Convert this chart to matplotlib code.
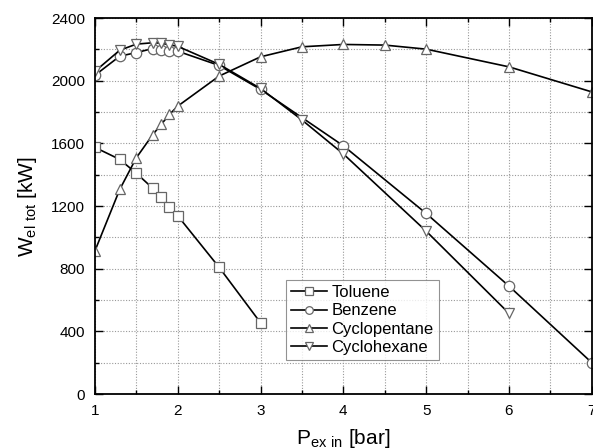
import matplotlib
matplotlib.use("Agg")
import matplotlib.pyplot as plt
from matplotlib.ticker import MultipleLocator

plt.rcParams['font.family'] = ['Liberation Sans', 'DejaVu Sans']

p_toluene = [1.0, 1.3, 1.5, 1.7, 1.8, 1.9, 2.0, 2.5, 3.0]
w_toluene = [1575, 1498, 1410, 1313, 1255, 1196, 1138, 809, 455]

p_benzene = [1.0, 1.3, 1.5, 1.7, 1.8, 1.9, 2.0, 2.5, 3.0, 4.0, 5.0, 6.0, 7.0]
w_benzene = [2035, 2157, 2180, 2206, 2196, 2191, 2189, 2098, 1945, 1585, 1153, 689, 200]

p_cyclopentane = [1.0, 1.3, 1.5, 1.7, 1.8, 1.9, 2.0, 2.5, 3.0, 3.5, 4.0, 4.5, 5.0, 6.0, 7.0]
w_cyclopentane = [913, 1306, 1508, 1657, 1721, 1785, 1838, 2030, 2153, 2217, 2232, 2228, 2202, 2089, 1929]

p_cyclohexane = [1.0, 1.3, 1.5, 1.7, 1.8, 1.9, 2.0, 2.5, 3.0, 3.5, 4.0, 5.0, 6.0]
w_cyclohexane = [2060, 2195, 2234, 2243, 2240, 2230, 2220, 2105, 1951, 1750, 1533, 1040, 515]

series = [
    ("Toluene", p_toluene, w_toluene, "s"),
    ("Benzene", p_benzene, w_benzene, "o"),
    ("Cyclopentane", p_cyclopentane, w_cyclopentane, "^"),
    ("Cyclohexane", p_cyclohexane, w_cyclohexane, "v"),
]

fig = plt.figure(figsize=(5.93, 4.48), dpi=100)
ax = fig.add_axes([0.160, 0.1205, 0.838, 0.839])

for name, x, y, m in series:
    ax.plot(x, y, color="black", lw=1.2, marker=m, markersize=7.5,
            markerfacecolor="white", markeredgecolor="#666666",
            markeredgewidth=0.9, label=name)

ax.set_xlim(1, 7)
ax.set_ylim(0, 2400)
ax.xaxis.set_major_locator(MultipleLocator(1))
ax.xaxis.set_minor_locator(MultipleLocator(0.5))
ax.yaxis.set_major_locator(MultipleLocator(400))
ax.yaxis.set_minor_locator(MultipleLocator(200))
ax.grid(True, which="both", linestyle=(0, (1, 1.5)), color="#999999", lw=0.8)
ax.set_axisbelow(True)
ax.tick_params(which="both", direction="in", top=True, right=True, labelsize=11,
               width=1.0, pad=7)
ax.tick_params(which="major", length=6)
ax.tick_params(which="minor", length=3)
for s in ax.spines.values():
    s.set_linewidth(1.3)

ax.set_xlabel(r"P$_{\mathregular{ex\ in}}$ [bar]", fontsize=15, labelpad=7)
ax.set_ylabel(r"W$_{\mathregular{el\ tot}}$ [kW]", fontsize=15, labelpad=9)

leg = ax.legend(loc="upper left", bbox_to_anchor=(0.384, 0.303), fontsize=12,
                frameon=True, fancybox=False, edgecolor="#777777",
                handlelength=2.2, handletextpad=0.25, borderpad=0.3,
                labelspacing=0.2, borderaxespad=0)
leg.get_frame().set_linewidth(0.8)
for h in leg.legend_handles:
    h.set_markersize(5.5)

fig.savefig("out.png", dpi=100)
